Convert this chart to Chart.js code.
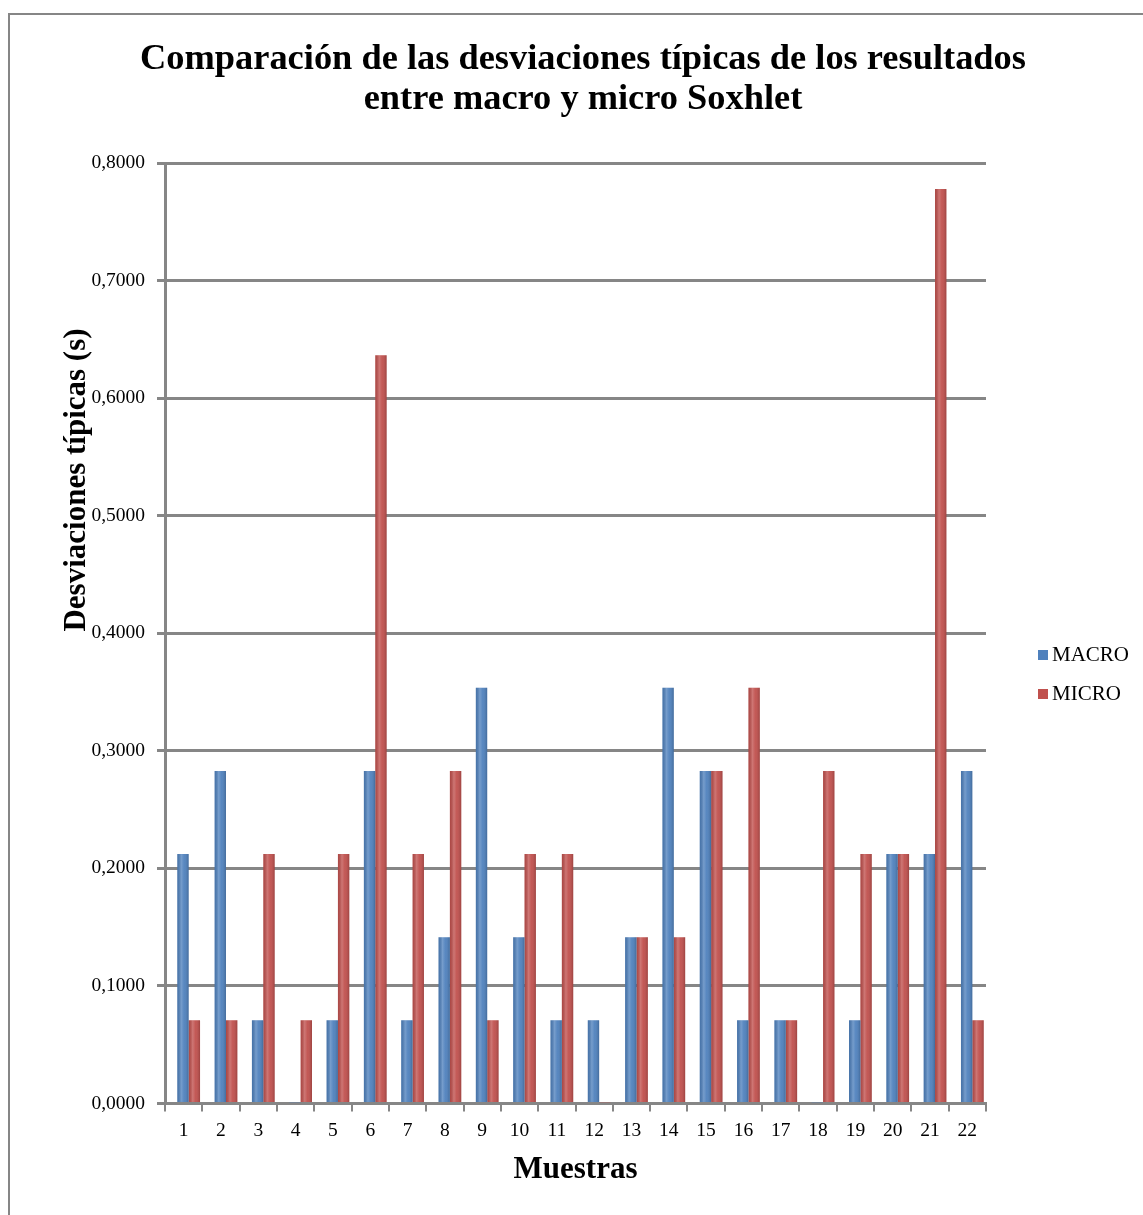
<!DOCTYPE html>
<html>
<head>
<meta charset="utf-8">
<script src="https://cdn.jsdelivr.net/npm/chart.js@4.4.0/dist/chart.umd.min.js"></script>
<style>
  body { margin: 0; background: #fff; }
  #frame { position: absolute; left: 8px; top: 13px; width: 1200px; height: 1300px;
           border-left: 2px solid #868686; border-top: 2px solid #868686; }
  #wrap { position: absolute; left: 0; top: 0; width: 1143px; height: 1215px; }
  #title { position: absolute; left: 0; top: 37px; width: 1166px; text-align: center;
           font-family: "Liberation Serif", "Times New Roman", serif; font-weight: bold;
           font-size: 36.4px; line-height: 40px; color: #000; }
  #legend { position: absolute; left: 1038px; top: 635px; font-family: "Liberation Serif", "Times New Roman", serif;
            font-size: 21px; color: #000; }
  #legend div { height: 39px; display: flex; align-items: center; }
  #legend span.box { display: inline-block; width: 10px; height: 10px; margin-right: 4px; }
</style>
</head>
<body>
<div id="frame"></div>
<div id="wrap"><canvas id="chart"></canvas></div>
<div id="title"></div>
<div id="legend"></div>
<script>
const categories = ['1','2','3','4','5','6','7','8','9','10','11','12','13','14','15','16','17','18','19','20','21','22'];
const macro = [0.2121, 0.2828, 0.0707, 0.0010, 0.0707, 0.2828, 0.0707, 0.1414, 0.3536, 0.1414, 0.0707,
               0.0707, 0.1414, 0.3536, 0.2828, 0.0707, 0.0707, 0.0010, 0.0707, 0.2121, 0.2121, 0.2828];
const micro = [0.0707, 0.0707, 0.2121, 0.0707, 0.2121, 0.6364, 0.2121, 0.2828, 0.0707, 0.2121, 0.2121,
               0.0010, 0.1414, 0.1414, 0.2828, 0.3536, 0.0707, 0.2828, 0.2121, 0.2121, 0.7778, 0.0707];
const seriesNames = ['MACRO', 'MICRO'];
const seriesColors = ['#4F81BD', '#C0504D'];
const titleLines = ['Comparación de las desviaciones típicas de los resultados', 'entre macro y micro Soxhlet'];
const yTitle = 'Desviaciones típicas (s)';
const xTitle = 'Muestras';

const serif = '"Liberation Serif", "Times New Roman", serif';
const gridGray = '#868686';

// title and legend are html so they can sit where the original puts them
document.getElementById('title').innerHTML = titleLines.join('<br>');
const legendEl = document.getElementById('legend');
seriesNames.forEach((name, i) => {
    legendEl.innerHTML += `<div><span class="box" style="background:${seriesColors[i]}"></span>${name}</div>`;
});

// draws the rotated y axis title where the original has it
const yTitlePlugin = {
    id: 'yTitle',
    afterDraw(chart) {
        const ctx = chart.ctx;
        ctx.save();
        ctx.translate(77, 480);
        ctx.rotate(-Math.PI / 2);
        ctx.font = 'bold 31px ' + serif;
        ctx.fillStyle = '#000';
        ctx.textAlign = 'center';
        ctx.textBaseline = 'middle';
        ctx.fillText(yTitle, 0, 0);
        ctx.restore();
    }
};

// the original is a 3d chart: bars sit a few px deeper (to the right),
// plus a light stripe on each so they look a bit like cylinders
const depthShift = 5;
const barLookPlugin = {
    id: 'barLook',
    beforeDatasetsDraw(chart) {
        chart.ctx.save();
        chart.ctx.translate(depthShift, 0);
    },
    afterDatasetsDraw(chart) {
        const ctx = chart.ctx;
        chart.data.datasets.forEach((ds, di) => {
            chart.getDatasetMeta(di).data.forEach(bar => {
                const left = bar.x - bar.width / 2;
                const top = Math.min(bar.y, bar.base);
                const h = Math.abs(bar.base - bar.y);
                if (h < 1) return;
                const g = ctx.createLinearGradient(left, 0, left + bar.width, 0);
                g.addColorStop(0, 'rgba(0,0,0,0.10)');
                g.addColorStop(0.35, 'rgba(255,255,255,0.22)');
                g.addColorStop(0.6, 'rgba(255,255,255,0.05)');
                g.addColorStop(1, 'rgba(0,0,0,0.18)');
                ctx.fillStyle = g;
                ctx.fillRect(left, top, bar.width, h);
            });
        });
        ctx.restore();
    }
};

new Chart(document.getElementById('chart'), {
    type: 'bar',
    data: {
        labels: categories,
        datasets: [
            { label: seriesNames[0], data: macro, backgroundColor: seriesColors[0] },
            { label: seriesNames[1], data: micro, backgroundColor: seriesColors[1] }
        ]
    },
    options: {
        responsive: true,
        maintainAspectRatio: false,
        animation: false,
        layout: { padding: { left: 0, right: 157, top: 163, bottom: 22 } },
        datasets: { bar: { categoryPercentage: 0.61, barPercentage: 1.0 } },
        plugins: {
            title: { display: false },
            legend: { display: false },
            tooltip: { enabled: false }
        },
        scales: {
            x: {
                offset: true,
                grid: { offset: true, drawOnChartArea: false, color: gridGray, lineWidth: 2, tickLength: 8 },
                border: { color: gridGray, width: 3 },
                ticks: { color: '#000', font: { family: serif, size: 19.5 }, padding: 8, maxRotation: 0, autoSkip: false },
                title: { display: true, text: xTitle, color: '#000', font: { family: serif, size: 31, weight: 'bold' }, padding: { top: 1 } }
            },
            y: {
                min: 0,
                max: 0.8,
                afterFit(scale) { scale.width = 165; },
                grid: { color: gridGray, lineWidth: 3, tickLength: 8 },
                border: { color: gridGray, width: 3 },
                ticks: {
                    stepSize: 0.1,
                    color: '#000',
                    font: { family: serif, size: 19.5 },
                    padding: 12,
                    callback: v => v.toFixed(4).replace('.', ',')
                }
            }
        }
    },
    plugins: [yTitlePlugin, barLookPlugin]
});
</script>
</body>
</html>
